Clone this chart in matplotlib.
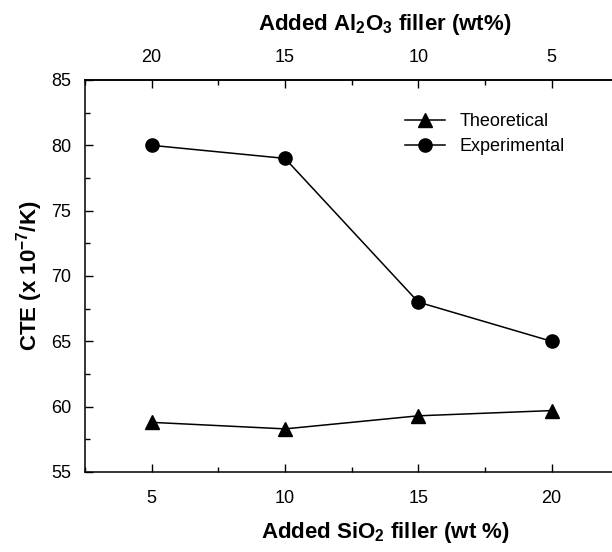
import matplotlib
matplotlib.use("Agg")
import matplotlib.pyplot as plt
from matplotlib.ticker import MultipleLocator

plt.rcParams['font.family'] = ['Liberation Sans', 'DejaVu Sans']
plt.rcParams['mathtext.fontset'] = 'custom'
plt.rcParams['mathtext.rm'] = 'Liberation Sans'
plt.rcParams['mathtext.bf'] = 'Liberation Sans:bold'
plt.rcParams['mathtext.default'] = 'bf'

# данные
sio2 = [5, 10, 15, 20]
theoretical = [58.8, 58.3, 59.3, 59.7]
experimental = [80.0, 79.0, 68.0, 65.0]
al2o3_ticks = [20, 15, 10, 5]

fig = plt.figure(figsize=(6.12, 5.52), dpi=100)
ax = fig.add_axes([85 / 612, 80 / 552, 600 / 612, 392 / 552])

ax.plot(sio2, theoretical, color='black', lw=1.1, marker='^', ms=10,
        label='Theoretical')
ax.plot(sio2, experimental, color='black', lw=1.1, marker='o', ms=9.5,
        label='Experimental')

ax.set_xlim(2.5, 25)
ax.set_ylim(55, 85)
ax.xaxis.set_major_locator(MultipleLocator(5))
ax.xaxis.set_minor_locator(MultipleLocator(2.5))
ax.yaxis.set_major_locator(MultipleLocator(5))
ax.yaxis.set_minor_locator(MultipleLocator(2.5))
ax.tick_params(which='both', direction='in', width=1.0, labelsize=13, top=False, right=False)
ax.tick_params(which='major', length=6)
ax.tick_params(axis='x', which='major', pad=13)
ax.tick_params(axis='y', which='major', pad=10)
ax.tick_params(which='minor', length=3.5)
ax.set_xticks(sio2)
for s in ['left', 'bottom', 'top']:
    ax.spines[s].set_linewidth(1.1)
ax.spines['right'].set_visible(False)

ax.set_xlabel('Added SiO$_2$ filler (wt %)', fontsize=16, fontweight='bold', labelpad=9)
ax.set_ylabel('CTE (x 10$^{-7}$/K)', fontsize=16, fontweight='bold', labelpad=4)

top = ax.secondary_xaxis('top', functions=(lambda x: 25 - x, lambda x: 25 - x))
top.set_xticks(al2o3_ticks)
top.xaxis.set_minor_locator(MultipleLocator(2.5))
top.tick_params(which='both', direction='in', width=1.0, labelsize=13)
top.tick_params(which='major', length=6, pad=10)
top.tick_params(which='minor', length=3.5)
top.spines['top'].set_linewidth(1.1)
top.set_xlabel('Added Al$_2$O$_3$ filler (wt%)', fontsize=16, fontweight='bold', labelpad=14)

ax.legend(loc='center left', bbox_to_anchor=(405 / 612, 1 - 134 / 552),
          bbox_transform=fig.transFigure, frameon=False, fontsize=13,
          borderpad=0, borderaxespad=0, handlelength=2.2, handletextpad=0.8,
          labelspacing=0.45)

fig.savefig('out.png', dpi=100)
